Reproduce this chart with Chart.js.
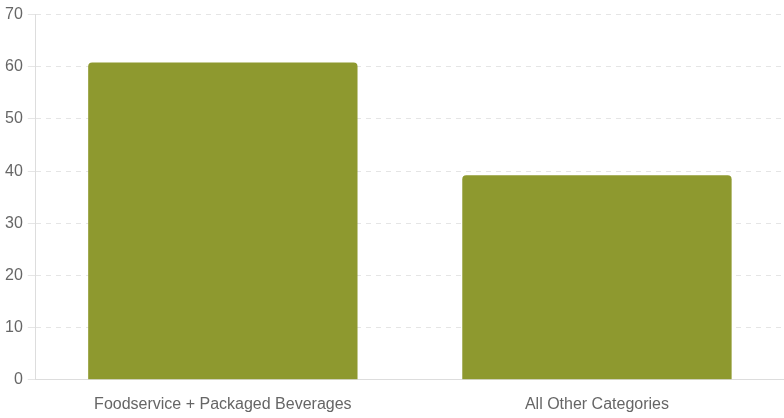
<!DOCTYPE html>
<html>
<head>
<meta charset="utf-8">
<script src="https://cdn.jsdelivr.net/npm/chart.js@4"></script>
<style>
  html, body { margin: 0; padding: 0; background: #fff; }
  #wrap { width: 784px; height: 418px; }
</style>
</head>
<body>
<div id="wrap"><canvas id="shareChart"></canvas></div>
<script>
const categories = ['Foodservice + Packaged Beverages', 'All Other Categories'];
const shareValues = [60.8, 39.2];
const tickValues = [0, 10, 20, 30, 40, 50, 60, 70];

document.addEventListener("DOMContentLoaded", function () {
    const ctx = document.getElementById('shareChart').getContext('2d');

    new Chart(ctx, {
        type: 'bar',
        data: {
            labels: categories,
            datasets: [{
                label: 'Share',
                data: shareValues,
                backgroundColor: '#8e992f',
                borderRadius: 4,
                borderSkipped: 'bottom'
            }]
        },
        options: {
            responsive: true,
            maintainAspectRatio: false,
            animation: false,
            layout: { padding: { top: 5, bottom: -3 } },
            plugins: {
                legend: { display: false },
                tooltip: { enabled: false }
            },
            scales: {
                x: {
                    grid: { display: false },
                    border: { color: '#dddddd' },
                    ticks: {
                        padding: 7,
                        color: '#666666',
                        font: { family: 'Liberation Sans, Arial, sans-serif', size: 16 }
                    }
                },
                y: {
                    min: tickValues[0],
                    max: tickValues[tickValues.length - 1],
                    ticks: {
                        stepSize: tickValues[1] - tickValues[0],
                        padding: 5,
                        color: '#666666',
                        font: { family: 'Liberation Sans, Arial, sans-serif', size: 16 }
                    },
                    grid: { color: '#e5e5e5', tickColor: '#e5e5e5' },
                    border: { dash: [5, 5], color: '#dddddd' }
                }
            }
        }
    });
});
</script>
</body>
</html>
